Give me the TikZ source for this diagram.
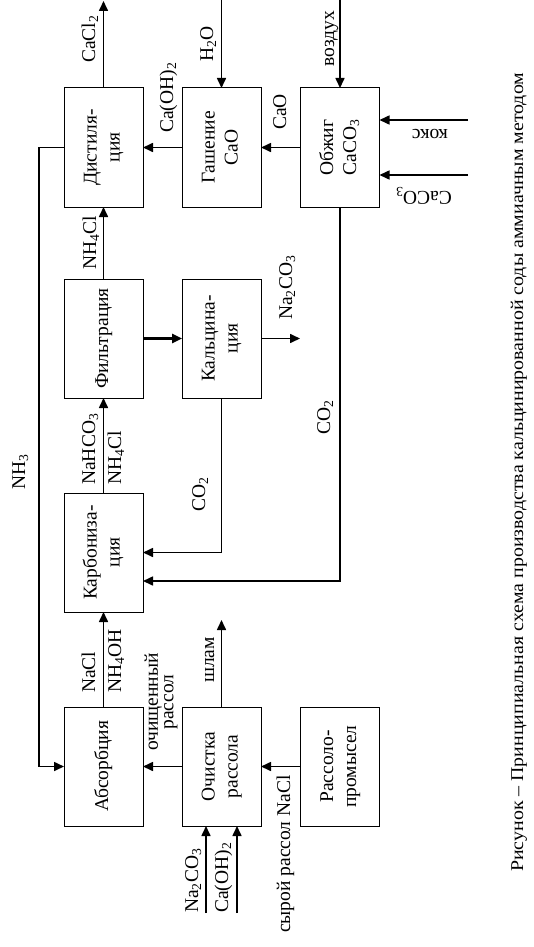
\documentclass[tikz,border=0pt]{standalone}
\usepackage{fontspec}
\usepackage{graphicx}
\setmainfont{Liberation Serif}
\usetikzlibrary{arrows.meta,calc}
\newcommand\sbs[1]{\textsubscript{#1}}
\newcommand\rtext[1]{\rotatebox{90}{\begin{tabular}{@{}c@{}}#1\end{tabular}}}
\tikzset{
  proc/.style={draw, line width=1pt, minimum width=79pt, minimum height=119pt, inner sep=0pt, outer sep=0pt, font=\fontsize{19.5}{23}\selectfont},
  conn/.style={line width=1.6pt, -{Triangle[length=10pt,width=9pt]}},
  lbl/.style={rotate=90, anchor=base west, inner sep=0pt, font=\fontsize{19.5}{22}\selectfont},
  lblc/.style={rotate=90, anchor=center, inner sep=0pt, align=center, font=\fontsize{19.5}{15.5}\selectfont},
  lblr/.style={rotate=180, inner sep=0pt, font=\fontsize{19.5}{22}\selectfont},
}
\begin{document}
\begin{tikzpicture}[x=1pt,y=-1pt]
\fill[white] (0,0) rectangle (533,947);
\useasboundingbox (0,0) rectangle (533,947);
% boxes
\node[proc] (dist) at (103.5,147.5) {\rtext{Дистиля-\\ция}};
\node[proc] (gash) at (221.5,147.5) {\rtext{Гашение\\CaO}};
\node[proc] (obzh) at (340,147.5) {\rtext{Обжиг\\CaCO\sbs{3}}};
\node[proc] (filt) at (103.5,338.5) {\rtext{Фильтрация}};
\node[proc] (kalc) at (221.5,338.5) {\rtext{Кальцина-\\ция}};
\node[proc] (karb) at (103.5,552.5) {\rtext{Карбониза-\\ция}};
\node[proc] (abs) at (103.5,766.5) {\rtext{Абсорбция}};
\node[proc] (och) at (221.5,766.5) {\rtext{Очистка\\рассола}};
\node[proc] (rass) at (340,766.5) {\rtext{Рассоло-\\промысел}};
% connectors
\coordinate (cacl) at (103.5,1);
\draw[conn] (dist.north) -- (cacl);
\coordinate (h2o) at (221.5,0);
\draw[conn] (h2o) -- (gash.north);
\coordinate (vozd) at (340,0);
\draw[conn] (vozd) -- (obzh.north);
\draw[conn] (obzh.west) -- (gash.east);
\draw[conn] (gash.west) -- (dist.east);
\coordinate (koks) at (468,120);
\draw[conn] (koks) -- (koks -| obzh.east);
\coordinate (caco) at (468,175);
\draw[conn] (caco) -- (caco -| obzh.east);
\coordinate (nh3) at (39,147.5);
\draw[conn] (dist.west) -- (nh3) |- (abs.west);
\draw[conn] (filt.north) -- (dist.south);
\draw[conn, line width=2.4pt] (filt.east) -- (kalc.west);
\coordinate (na2) at (300,338.5);
\draw[conn] (kalc.east) -- (na2);
\draw[conn] (kalc.south) |- (karb.east);
\coordinate (co2b) at (143,581);
\draw[conn] (obzh.south) |- (co2b);
\draw[conn] (karb.north) -- (filt.south);
\draw[conn] (abs.north) -- (karb.south);
\draw[conn] (och.west) -- (abs.east);
\coordinate (shl) at (221.5,620);
\draw[conn] (och.north) -- (shl);
\draw[conn] (rass.west) -- (och.east);
\coordinate (in1) at (206,913);
\draw[conn] (in1) -- (in1 |- och.south);
\coordinate (in2) at (237,913);
\draw[conn] (in2) -- (in2 |- och.south);
% labels
\node[lbl] (lcacl) at (95,63) {CaCl\sbs{2}};
\node[lbl] (lcaoh) at (173,133) {Ca(OH)\sbs{2}};
\node[lbl] (lh2o) at (213,62) {H\sbs{2}O};
\node[lbl] (lcao) at (286,130) {CaO};
\node[lbl] (lvozd) at (334,67) {воздух};
\node[lblr] (lkoks) at (430,134) {кокс};
\node[lblr, anchor=base west] (lcaco) at (452,191) {CaCO\sbs{3}};
\node[lbl] (lnh4cl) at (96,270) {NH\sbs{4}Cl};
\node[lbl] (lnahco) at (95,485) {NaHCO\sbs{3}};
\node[lbl] (lnh4cl2) at (121,485) {NH\sbs{4}Cl};
\node[lbl] (lna2co) at (292,320) {Na\sbs{2}CO\sbs{3}};
\node[lbl] (lco2a) at (205,512) {CO\sbs{2}};
\node[lbl] (lco2b) at (330,435) {CO\sbs{2}};
\node[lbl] (lnh3) at (25,490) {NH\sbs{3}};
\node[lbl] (lnacl) at (95,693) {NaCl};
\node[lbl] (lnh4oh) at (121,693) {NH\sbs{4}OH};
\node[lblc] (lochr) at (161,702) {очищенный\\рассол};
\node[lbl] (lshl) at (214,683) {шлам};
\node[lbl] (lsyr) at (290,933) {сырой рассол NaCl};
\node[lbl] (lna2in) at (198,913) {Na\sbs{2}CO\sbs{3}};
\node[lbl] (lcaohin) at (228,913) {Ca(OH)\sbs{2}};
% caption
\node[rotate=90, anchor=base west, inner sep=0pt, font=\fontsize{18}{20}\selectfont] (cap) at (523,872) {\resizebox{799pt}{\height}{Рисунок – Принципиальная схема производства кальцинированной соды аммиачным методом}};
\end{tikzpicture}
\end{document}
